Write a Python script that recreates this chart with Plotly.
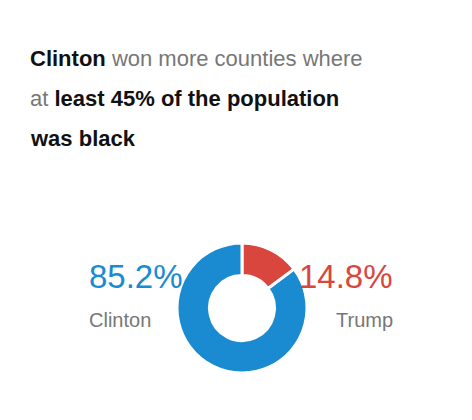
import plotly.graph_objects as go

candidates = ["Trump", "Clinton"]
shares = [14.8, 85.2]
colors = ["#d9463e", "#1a8ad1"]

W, H = 472, 420
fig = go.Figure(go.Pie(
    labels=candidates, values=shares, hole=0.5, sort=False, direction="clockwise",
    rotation=0, marker=dict(colors=colors, line=dict(color="white", width=3)),
    textinfo="none", hoverinfo="label+percent", showlegend=False,
    domain=dict(x=[(234-65)/W, (234+65)/W], y=[(420-365)/H, (420-235)/H]),
))

font = "Liberation Sans, Arial, sans-serif"
gray = "#777777"
lines = [
    "<b>Clinton</b> <span style='color:" + gray + "'>won more counties where</span>",
    "<span style='color:" + gray + "'>at</span> <b>least 45% of the population</b>",
    "<b>was black</b>",
]
ann = []
for i, t in enumerate(lines):
    ann.append(dict(text=t, x=20/W, y=1-(50+i*40)/H, xref="paper", yref="paper",
                    xanchor="left", yanchor="middle", showarrow=False,
                    font=dict(family=font, size=22, color="#111111")))
for name, val, col, x in [("Clinton", shares[1], colors[1], 79), ("Trump", shares[0], colors[0], 387)]:
    ann.append(dict(text=f"{val:.1f}%", x=x/W, y=1-289/H, xref="paper", yref="paper",
                    showarrow=False, font=dict(family=font, size=33, color=col)))
    ann.append(dict(text=name, x=x/W, y=1-325/H, xref="paper", yref="paper",
                    showarrow=False, font=dict(family=font, size=20, color=gray)))

fig.update_layout(width=W, height=H, margin=dict(l=0, r=0, t=0, b=0),
                  paper_bgcolor="white", plot_bgcolor="white", annotations=ann)
fig.write_html("out.html")
